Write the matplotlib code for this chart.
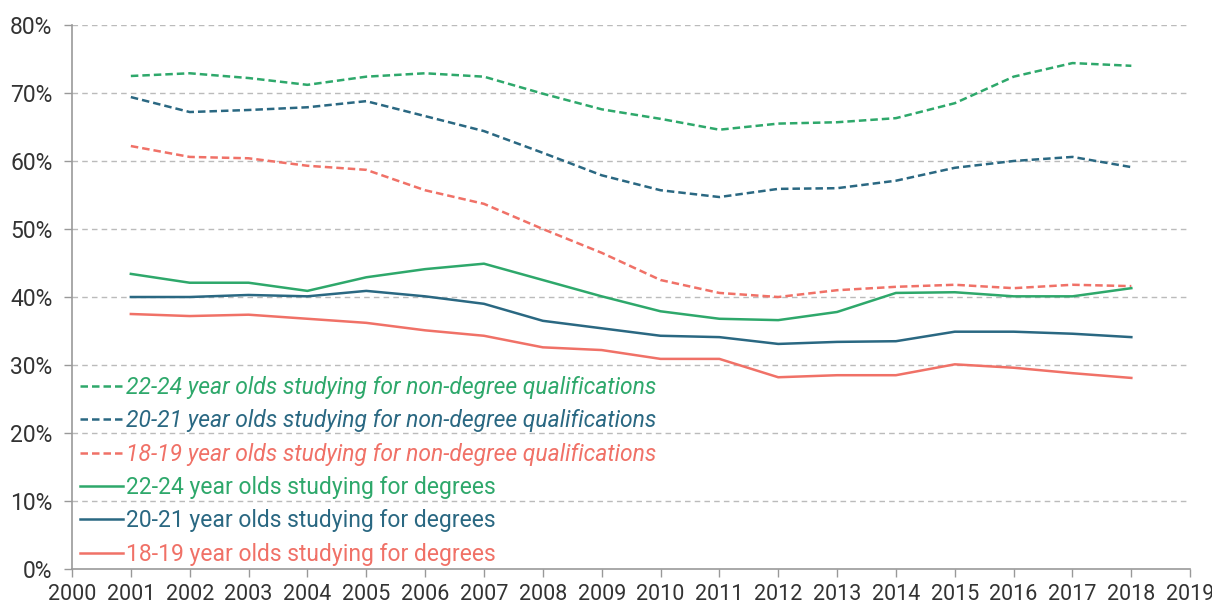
import matplotlib
matplotlib.use("Agg")
import matplotlib.pyplot as plt
from matplotlib.ticker import PercentFormatter

years = list(range(2001, 2019))

nondeg_22_24 = [72.5, 72.9, 72.2, 71.2, 72.4, 72.9, 72.4, 69.9, 67.6, 66.2,
                64.6, 65.5, 65.7, 66.3, 68.5, 72.4, 74.4, 74.0]
nondeg_20_21 = [69.4, 67.2, 67.5, 67.9, 68.8, 66.6, 64.4, 61.2, 57.9, 55.7,
                54.7, 55.9, 56.0, 57.1, 59.0, 60.0, 60.6, 59.1]
nondeg_18_19 = [62.2, 60.6, 60.4, 59.3, 58.7, 55.7, 53.7, 50.0, 46.5, 42.5,
                40.6, 40.0, 41.0, 41.5, 41.8, 41.3, 41.8, 41.6]
deg_22_24 = [43.4, 42.1, 42.1, 40.9, 42.9, 44.1, 44.9, 42.5, 40.1, 37.9,
             36.8, 36.6, 37.8, 40.6, 40.7, 40.1, 40.1, 41.3]
deg_20_21 = [40.0, 40.0, 40.3, 40.1, 40.9, 40.1, 39.0, 36.5, 35.4, 34.3,
             34.1, 33.1, 33.4, 33.5, 34.9, 34.9, 34.6, 34.1]
deg_18_19 = [37.5, 37.2, 37.4, 36.8, 36.2, 35.1, 34.3, 32.6, 32.2, 30.9,
             30.9, 28.2, 28.5, 28.5, 30.1, 29.6, 28.8, 28.1]

green = "#2ea86b"
blue = "#2a6882"
red = "#f07167"

plt.rcParams['font.family'] = ['Roboto', 'DejaVu Sans']

fig = plt.figure(figsize=(12.12, 6.08), dpi=100)
ax = fig.add_axes([0.0594, 0.0641, 0.9226, 0.8948])

dash = (0, (3, 1.6))
ax.plot(years, nondeg_22_24, color=green, lw=1.8, linestyle=dash,
        label="22-24 year olds studying for non-degree qualifications")
ax.plot(years, nondeg_20_21, color=blue, lw=1.8, linestyle=dash,
        label="20-21 year olds studying for non-degree qualifications")
ax.plot(years, nondeg_18_19, color=red, lw=1.8, linestyle=dash,
        label="18-19 year olds studying for non-degree qualifications")
ax.plot(years, deg_22_24, color=green, lw=1.8,
        label="22-24 year olds studying for degrees")
ax.plot(years, deg_20_21, color=blue, lw=1.8,
        label="20-21 year olds studying for degrees")
ax.plot(years, deg_18_19, color=red, lw=1.8,
        label="18-19 year olds studying for degrees")

ax.set_xlim(2000, 2019)
ax.set_ylim(0, 80)
ax.set_xticks(range(2000, 2020))
ax.set_yticks(range(0, 81, 10))
ax.yaxis.set_major_formatter(PercentFormatter(decimals=0))

for y in range(10, 81, 10):
    ax.axhline(y, color="#bbbbbb", lw=1, linestyle=(0, (4, 3)), zorder=0)

for s in ["top", "right"]:
    ax.spines[s].set_visible(False)
for s in ["left", "bottom"]:
    ax.spines[s].set_color("#999999")
    ax.spines[s].set_linewidth(1.2)

ax.tick_params(axis="both", colors="#999999", labelcolor="#333333",
               length=6, width=1)
ax.tick_params(axis="y", labelsize=16.5, pad=8)
ax.tick_params(axis="x", labelsize=15.5, pad=5)

leg = ax.legend(loc="lower left", bbox_to_anchor=(0.004, 0.0), frameon=False,
                fontsize=16.5, handlelength=1.9, handletextpad=0.1,
                labelspacing=0.45, labelcolor="linecolor",
                borderpad=0, borderaxespad=0.15)
for i, t in enumerate(leg.get_texts()):
    if i < 3:
        t.set_fontstyle("italic")

fig.savefig("out.png", dpi=100)
